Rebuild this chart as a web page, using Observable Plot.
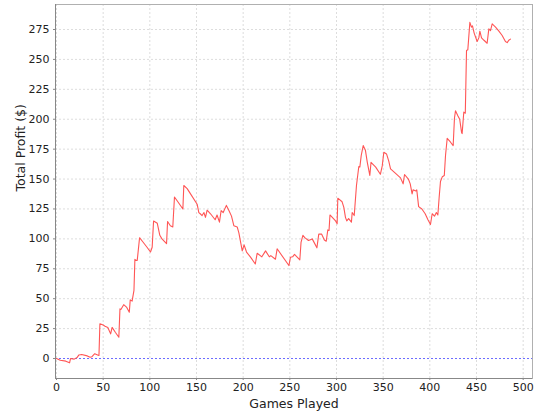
<!DOCTYPE html>
<html>
<head>
<meta charset="utf-8">
<script src="https://cdn.jsdelivr.net/npm/d3@7"></script>
<script src="https://cdn.jsdelivr.net/npm/@observablehq/plot@0.6"></script>
<style>
  html, body { margin: 0; padding: 0; background: #fff; }
  #chart svg { display: block; }
</style>
</head>
<body>
<div id="chart"></div>
<script>
const games = [0,4,10,14,15,19,22,24,27,33,36,38,41,44,45.5,46.5,50,52,55,58,59.6,63,66.8,68,69,72,75,78,79,81,83,84,85,86.5,89,92,97,100.7,102.5,104,108,110.7,113,117.9,119,122,124.6,126.4,130,135.4,136.4,140,143.6,150.7,152.5,154,156,158,159.6,161.4,165,170,172,174.6,176.4,178.6,182,184.6,187.5,190,193.6,195.4,199,201,203.6,207.9,213,215,220,224,228,229.6,234.6,236.4,249,250.7,253,255,257.6,260.7,262,264,266,270,274,279,281,284,287,289,290.7,292,293,299,300.7,301.4,306,307.8,309.6,311,313,316,316.8,319,321.4,323.9,325,326.5,328.6,331,333,335.7,337,342,347,349,350.7,353.6,356,357.9,363,368.6,371.4,372.9,377,379,381,382,385,386,388,391.5,395,398,400.7,402.5,405,407,408.6,410,411.4,413.4,415.5,416.8,418.6,422,425,426.4,427.5,430,432,434,434.6,436.4,438,439.3,440.7,442.9,444.6,445.7,447.5,450.7,452.5,453.6,455.4,458,461.4,463.2,465,466.8,470.4,474,477.5,481,482.9,484.6,486.4];
const profit = [0,-1.5,-2.2,-3.6,0,-0.5,0.8,3,3.3,2.2,1,1.5,4,3,2.5,29,28,27,26,20.6,26,22,17.8,41.5,41,45,43,38.7,49,48,57,83,82,82,101,98,93,89,93,115,113,103,100,96,114.5,111,110,135,131,125,144.6,142,137.6,129,122,121,119.5,122,118,124,121,116,120,114,123.7,122,128,124,119,111,110,105,90,95,89,84.7,79,88,85,90,85,86,83,91.7,77.7,84.7,85,87,85,82.5,97,103,101,98.6,100,92.5,104,104,99,98,107.5,107,120,115,112.6,134,131,126.5,118,115,117,114,122,119.5,144.6,160.5,160,169.7,178,174,164,153,164,160,154,161,172.4,171,165,158.5,155,151,146,153.8,150,146,137.6,141,140,141,127,125,121,116,112,121,119,122,120,134.8,148,152,153,169.7,184,181,178,201,207,203,200,189,188,206,205,257.4,258,281,277,278,272,265,268,273.6,268,266,263.5,275.5,274,279.7,277,273.6,270,265,264,266,267];
const xTicks = [0,50,100,150,200,250,300,350,400,450,500];
const yTicks = [0,25,50,75,100,125,150,175,200,225,250,275];
const xLabel = "Games Played";
const yLabel = "Total Profit ($)";

const data = games.map((g, i) => ({game: g, profit: profit[i]}));
const font = "'DejaVu Sans', sans-serif";

const chart = Plot.plot({
  width: 540,
  height: 420,
  marginLeft: 55,
  marginRight: 8,
  marginTop: 4,
  marginBottom: 42,
  style: {fontFamily: font, fontSize: "10px", color: "#222", background: "#fff"},
  x: {domain: [-1.07, 510], ticks: xTicks},
  y: {domain: [-16.7, 295.9], ticks: yTicks},
  marks: [
    Plot.gridX(xTicks, {stroke: "#dddddd", strokeOpacity: 1, strokeDasharray: "2,2"}),
    Plot.gridY(yTicks.filter(d => d !== 0), {stroke: "#dddddd", strokeOpacity: 1, strokeDasharray: "2,2"}),
    Plot.ruleY([0], {stroke: "#6a6aff", strokeWidth: 1, strokeDasharray: "2,2"}),
    Plot.line(data, {x: "game", y: "profit", stroke: "#ff5555", strokeWidth: 1.1}),
    Plot.frame({stroke: "#b0b0b0"}),
    Plot.axisX(xTicks, {tickSize: 2, tickPadding: 3, stroke: "#888", fill: "#222", fontSize: 11, label: null}),
    Plot.axisY(yTicks, {tickSize: 2, tickPadding: 4, stroke: "#888", fill: "#222", fontSize: 11, label: null}),
    Plot.ruleX([-1.07], {stroke: "#888"}),
    Plot.ruleY([-16.7], {stroke: "#888"}),
    Plot.text([xLabel], {frameAnchor: "bottom", dy: 29, fontSize: 12.5, fill: "#222", text: d => d}),
    Plot.text([yLabel], {frameAnchor: "left", dx: -35, rotate: -90, fontSize: 12.5, fill: "#222", text: d => d})
  ]
});
document.getElementById("chart").appendChild(chart);
</script>
</body>
</html>
